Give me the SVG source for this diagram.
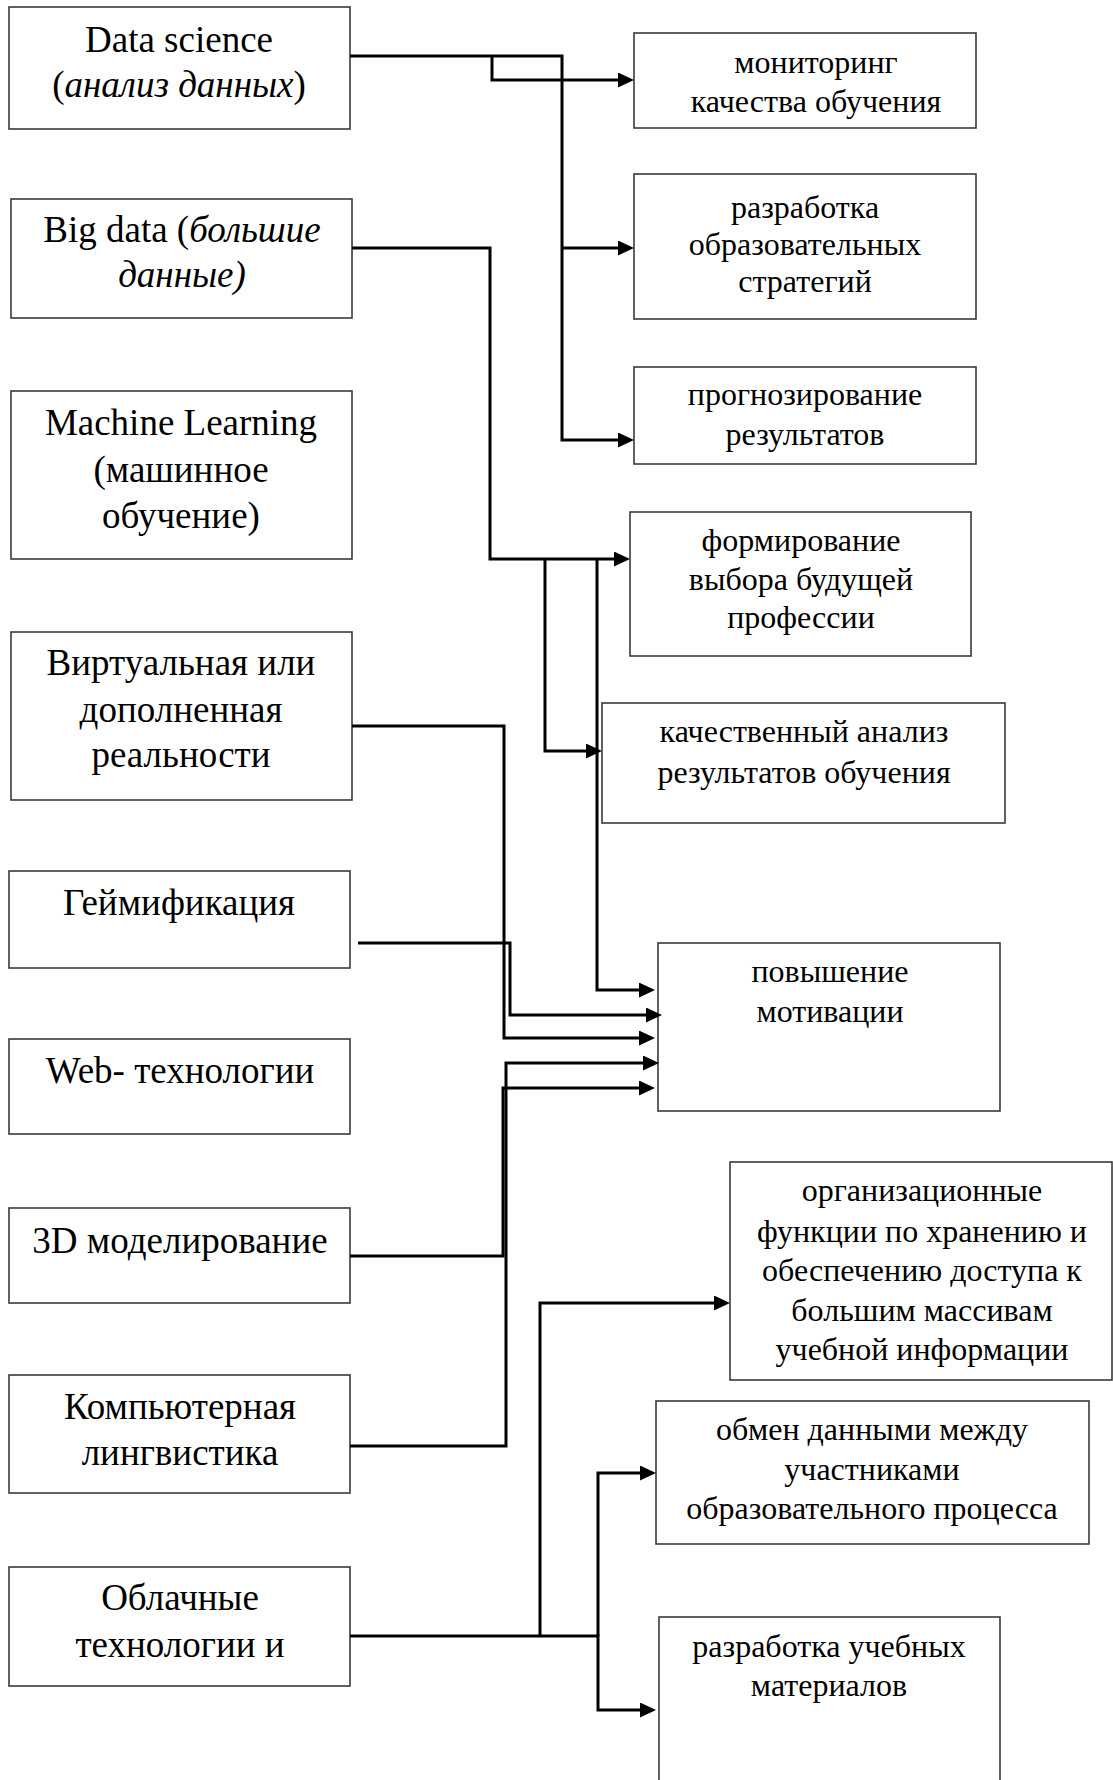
<svg xmlns="http://www.w3.org/2000/svg" width="1113" height="1780" viewBox="0 0 1113 1780">
  <defs>
    <marker id="ah" markerUnits="userSpaceOnUse" markerWidth="16" markerHeight="15" refX="8" refY="7.5" orient="auto">
      <path d="M0,0 L16,7.5 L0,15 z" fill="#000"/>
    </marker>
  </defs>
  <style>
    .box { fill: #fff; stroke: #3a3a3a; stroke-width: 1.6; }
    .lt { font-family: "Liberation Serif", "Times New Roman", serif; font-size: 37px; text-anchor: middle; fill: #000; }
    .rt { font-family: "Liberation Serif", "Times New Roman", serif; font-size: 32px; text-anchor: middle; fill: #000; }
    .it { font-style: italic; }
    .wire { fill: none; stroke: #000; stroke-width: 3; }
    .arr { marker-end: url(#ah); }
  </style>
  <rect width="1113" height="1780" fill="#fff"/>

  <!-- technologies (left column) -->
  <g id="n-datascience">
    <rect class="box" x="9" y="7" width="341" height="122"/>
    <text class="lt" x="179" y="52">Data science</text>
    <text class="lt" x="179" y="97">(<tspan class="it">анализ данных</tspan>)</text>
  </g>
  <g id="n-bigdata">
    <rect class="box" x="11" y="199" width="341" height="119"/>
    <text class="lt" x="182" y="242">Big data (<tspan class="it">большие</tspan></text>
    <text class="lt it" x="182" y="287">данные)</text>
  </g>
  <g id="n-ml">
    <rect class="box" x="11" y="391" width="341" height="168"/>
    <text class="lt" x="181" y="435">Machine Learning</text>
    <text class="lt" x="181" y="482">(машинное</text>
    <text class="lt" x="181" y="528">обучение)</text>
  </g>
  <g id="n-vr">
    <rect class="box" x="11" y="632" width="341" height="168"/>
    <text class="lt" x="181" y="675">Виртуальная или</text>
    <text class="lt" x="181" y="722">дополненная</text>
    <text class="lt" x="181" y="767">реальности</text>
  </g>
  <g id="n-gamification">
    <rect class="box" x="9" y="871" width="341" height="97"/>
    <text class="lt" x="179" y="915">Геймификация</text>
  </g>
  <g id="n-web">
    <rect class="box" x="9" y="1039" width="341" height="95"/>
    <text class="lt" x="180" y="1083">Web- технологии</text>
  </g>
  <g id="n-3d">
    <rect class="box" x="9" y="1208" width="341" height="95"/>
    <text class="lt" x="180" y="1253">3D моделирование</text>
  </g>
  <g id="n-linguistics">
    <rect class="box" x="9" y="1375" width="341" height="118"/>
    <text class="lt" x="180" y="1419">Компьютерная</text>
    <text class="lt" x="180" y="1465">лингвистика</text>
  </g>
  <g id="n-cloud">
    <rect class="box" x="9" y="1567" width="341" height="119"/>
    <text class="lt" x="180" y="1610">Облачные</text>
    <text class="lt" x="180" y="1657">технологии и</text>
  </g>

  <!-- outcomes (right column) -->
  <g id="n-monitoring">
    <rect class="box" x="634" y="33" width="342" height="95"/>
    <text class="rt" x="816" y="73">мониторинг</text>
    <text class="rt" x="816" y="112">качества обучения</text>
  </g>
  <g id="n-strategies">
    <rect class="box" x="634" y="174" width="342" height="145"/>
    <text class="rt" x="805" y="218">разработка</text>
    <text class="rt" x="805" y="255">образовательных</text>
    <text class="rt" x="805" y="292">стратегий</text>
  </g>
  <g id="n-forecast">
    <rect class="box" x="634" y="367" width="342" height="97"/>
    <text class="rt" x="805" y="405">прогнозирование</text>
    <text class="rt" x="805" y="445">результатов</text>
  </g>
  <g id="n-profession">
    <rect class="box" x="630" y="512" width="341" height="144"/>
    <text class="rt" x="801" y="551">формирование</text>
    <text class="rt" x="801" y="590">выбора будущей</text>
    <text class="rt" x="801" y="628">профессии</text>
  </g>
  <g id="n-analysis">
    <rect class="box" x="602" y="703" width="403" height="120"/>
    <text class="rt" x="804" y="742">качественный анализ</text>
    <text class="rt" x="804" y="783">результатов обучения</text>
  </g>
  <g id="n-motivation">
    <rect class="box" x="658" y="943" width="342" height="168"/>
    <text class="rt" x="830" y="982">повышение</text>
    <text class="rt" x="830" y="1022">мотивации</text>
  </g>
  <g id="n-storage">
    <rect class="box" x="730" y="1162" width="382" height="218"/>
    <text class="rt" x="922" y="1201">организационные</text>
    <text class="rt" x="922" y="1242">функции по хранению и</text>
    <text class="rt" x="922" y="1281">обеспечению доступа к</text>
    <text class="rt" x="922" y="1321">большим массивам</text>
    <text class="rt" x="922" y="1360">учебной информации</text>
  </g>
  <g id="n-exchange">
    <rect class="box" x="656" y="1401" width="433" height="143"/>
    <text class="rt" x="872" y="1440">обмен данными между</text>
    <text class="rt" x="872" y="1480">участниками</text>
    <text class="rt" x="872" y="1519">образовательного процесса</text>
  </g>
  <g id="n-materials">
    <rect class="box" x="659" y="1617" width="341" height="200"/>
    <text class="rt" x="829" y="1657">разработка учебных</text>
    <text class="rt" x="829" y="1696">материалов</text>
  </g>

  <!-- connectors -->
  <g id="connectors">
    <path class="wire arr" d="M350,56 H562 V440 H626"/>
    <path class="wire arr" d="M562,248 H626"/>
    <path class="wire arr" d="M492,56 V80 H626"/>

    <path class="wire arr" d="M352,248 H490 V559 H622"/>
    <path class="wire arr" d="M545,559 V751 H594"/>
    <path class="wire arr" d="M597,559 V990 H647"/>

    <path class="wire arr" d="M352,726 H504 V1038 H647"/>
    <path class="wire arr" d="M358,943 H510 V1015 H654"/>
    <path class="wire arr" d="M350,1256 H503 V1088 H647"/>
    <path class="wire arr" d="M350,1446 H506 V1063 H651"/>

    <path class="wire arr" d="M350,1636 H598 V1710 H648"/>
    <path class="wire arr" d="M540,1636 V1303 H722"/>
    <path class="wire arr" d="M598,1636 V1473 H648"/>
  </g>
</svg>
